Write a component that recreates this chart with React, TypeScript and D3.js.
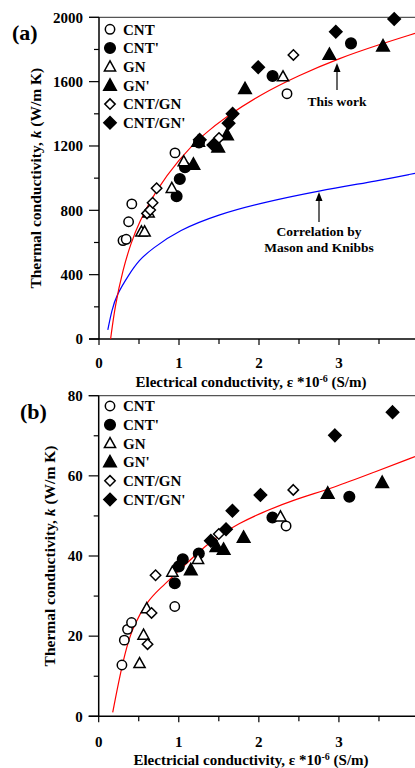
import React from 'react';
import * as d3 from 'd3';

// ---------- data ----------
const seriesNames = ["CNT", "CNT'", "GN", "GN'", "CNT/GN", "CNT/GN'"];
const seriesShapes = ['circle', 'circle', 'triangle', 'triangle', 'diamond', 'diamond'];
const seriesFilled = [false, true, false, true, false, true];

// Panel (a): electrical conductivity (x1e-6 S/m), thermal conductivity (W/m K)
const aCNT = [[0.30, 612], [0.34, 620], [0.37, 729], [0.41, 840], [0.95, 1157], [2.35, 1525]];
const aCNTp = [[0.97, 888], [1.01, 995], [1.075, 1068], [1.25, 1222], [2.17, 1635], [3.15, 1838]];
const aGN = [[0.53, 667], [0.57, 667], [0.62, 785], [0.91, 937], [1.06, 1103], [1.24, 1225], [2.30, 1631]];
const aGNp = [[1.18, 1085], [1.24, 1227], [1.49, 1192], [1.60, 1268], [1.825, 1555], [2.88, 1768], [3.55, 1820]];
const aCNTGN = [[0.60, 781], [0.64, 802], [0.67, 847], [0.72, 937], [1.50, 1250], [2.43, 1766]];
const aCNTGNp = [[1.26, 1238], [1.43, 1206], [1.62, 1341], [1.67, 1400], [1.99, 1690], [2.96, 1910], [3.69, 1990]];

const aRedFit = [[0.145, 0], [0.2, 205], [0.3, 435], [0.4, 597], [0.5, 725], [0.7, 915], [1.0, 1120], [1.3, 1270], [1.6, 1385], [2.0, 1515], [2.5, 1640], [3.0, 1745], [3.5, 1830], [3.95, 1900]];
const aBlueCorr = [[0.11, 56], [0.16, 180], [0.22, 274], [0.37, 398], [0.5, 491], [0.66, 560], [1.0, 678], [1.5, 775], [2.0, 843], [2.75, 922], [3.5, 985], [3.95, 1030]];

// Panel (b)
const bCNT = [[0.29, 12.8], [0.32, 19.0], [0.36, 21.7], [0.41, 23.4], [0.95, 27.4], [2.34, 47.5]];
const bCNTp = [[0.95, 33.2], [1.0, 37.4], [1.05, 39.2], [1.25, 40.6], [2.17, 49.6], [3.13, 54.8]];
const bGN = [[0.51, 13.2], [0.56, 20.3], [0.60, 26.9], [0.92, 36.0], [1.24, 39.2], [2.27, 49.8]];
const bGNp = [[1.15, 36.5], [1.47, 42.3], [1.56, 41.6], [1.81, 44.6], [2.86, 55.6], [3.54, 58.3]];
const bCNTGN = [[0.61, 18.0], [0.66, 25.8], [0.71, 35.2], [1.50, 45.5], [2.43, 56.5]];
const bCNTGNp = [[1.40, 43.8], [1.59, 46.7], [1.67, 51.3], [2.02, 55.2], [2.95, 70.1], [3.67, 75.9]];

const bRedFit = [[0.175, 1], [0.27, 10.7], [0.35, 17.4], [0.43, 22.4], [0.6, 28.6], [0.77, 32], [0.95, 35.3], [1.18, 39.8], [1.47, 44.8], [1.76, 48.2], [2.01, 50.6], [2.43, 54], [2.93, 57], [3.45, 61], [3.95, 64.8]];

const xMajorTicks = [0, 1, 2, 3];
const xMinorTicks = [0.5, 1.5, 2.5, 3.5];
const aYMajor = [0, 400, 800, 1200, 1600, 2000];
const aYMinor = [200, 600, 1000, 1400, 1800];
const bYMajor = [0, 20, 40, 60, 80];
const bYMinor = [10, 30, 50, 70];

const FONT = "'Liberation Serif', 'Times New Roman', serif";

function Marker({ shape, filled, cx, cy }) {
  const fill = filled ? '#000' : '#fff';
  const common = { fill, stroke: '#000', strokeWidth: 1.5 };
  if (shape === 'circle') return <circle cx={cx} cy={cy} r={filled ? 5.3 : 4.7} {...common} />;
  if (shape === 'triangle') {
    const s = filled ? 6.3 : 5.6;
    const p = `${cx},${cy - s * 1.05} ${cx - s},${cy + s * 0.75} ${cx + s},${cy + s * 0.75}`;
    return <polygon points={p} {...common} strokeLinejoin="miter" />;
  }
  const d = filled ? 6.2 : 5.2;
  const p = `${cx},${cy - d} ${cx + d},${cy} ${cx},${cy + d} ${cx - d},${cy}`;
  return <polygon points={p} {...common} />;
}

function Panel({ xRange, yRange, yDomain, yMajor, yMinor, series, curves, label, labelPos, xTitleWord, yTitleX, xLabelY, xTitleY, legendY0, legendStep }) {
  const x = d3.scaleLinear().domain([0, 4]).range(xRange);
  const y = d3.scaleLinear().domain(yDomain).range(yRange);
  const line = d3.line().x((d) => x(d[0])).y((d) => y(d[1])).curve(d3.curveBasis);
  const x0 = xRange[0];
  const yb = yRange[0];
  const yt = yRange[1];
  const yMid = (yb + yt) / 2;
  return (
    <g fontFamily={FONT} fontWeight="bold">
      <text x={labelPos[0]} y={labelPos[1]} fontSize={22} fill="#000">{label}</text>
      {/* frame */}
      <line x1={x0 - 10} x2={420} y1={yt} y2={yt} stroke="#555" strokeWidth={1.2} />
      <line x1={x0} x2={x0} y1={yt} y2={yb} stroke="#000" strokeWidth={1.5} />
      <line x1={x0 - 10} x2={420} y1={yb} y2={yb} stroke="#000" strokeWidth={1.5} />
      {/* y ticks */}
      {yMajor.map((v) => (
        <g key={'ym' + v}>
          <line x1={x0 - 10} x2={x0} y1={y(v)} y2={y(v)} stroke="#000" strokeWidth={1.2} />
          <text x={x0 - 16} y={y(v)} dy="0.35em" textAnchor="end" fontSize={15}>{v}</text>
        </g>
      ))}
      {yMinor.map((v) => (
        <line key={'yn' + v} x1={x0 - 5} x2={x0} y1={y(v)} y2={y(v)} stroke="#000" strokeWidth={1.2} />
      ))}
      {/* x ticks */}
      {xMajorTicks.map((v) => (
        <g key={'xm' + v}>
          <line x1={x(v)} x2={x(v)} y1={yb} y2={yb + 6} stroke="#000" strokeWidth={1.2} />
          <text x={x(v)} y={xLabelY} dy="0.35em" textAnchor="middle" fontSize={15}>{v}</text>
        </g>
      ))}
      {xMinorTicks.map((v) => (
        <line key={'xn' + v} x1={x(v)} x2={x(v)} y1={yb} y2={yb + 5} stroke="#000" strokeWidth={1.2} />
      ))}
      {/* axis titles */}
      <text x={251} y={xTitleY} dy="0.35em" textAnchor="middle" fontSize={15}>
        {xTitleWord} conductivity, ε *10<tspan dy="-5" fontSize={10}>-6</tspan><tspan dy="5"> (S/m)</tspan>
      </text>
      <text transform={`translate(${yTitleX},${yMid}) rotate(-90)`} dy="0.35em" textAnchor="middle" fontSize={15.5}>
        Thermal conductivity, <tspan fontStyle="italic">k</tspan> (W/m K)
      </text>
      {/* curves */}
      {curves.map((c, i) => (
        <path key={'c' + i} d={line(c.data)} fill="none" stroke={c.color} strokeWidth={1.2} />
      ))}
      {/* data markers */}
      {series.map((s, i) =>
        s.map((d, j) => (
          <Marker key={`m${i}-${j}`} shape={seriesShapes[i]} filled={seriesFilled[i]} cx={x(d[0])} cy={y(d[1])} />
        ))
      )}
      {/* legend */}
      {seriesNames.map((n, i) => (
        <g key={'lg' + i}>
          <Marker shape={seriesShapes[i]} filled={seriesFilled[i]} cx={110} cy={legendY0 + i * legendStep} />
          <text x={123} y={legendY0 + i * legendStep} dy="0.35em" fontSize={15}>{n}</text>
        </g>
      ))}
    </g>
  );
}

function Arrow({ x, y1, y2 }) {
  return (
    <g>
      <line x1={x} x2={x} y1={y1} y2={y2 + 6} stroke="#000" strokeWidth={1.2} />
      <polygon points={`${x},${y2} ${x - 3.5},${y2 + 9} ${x + 3.5},${y2 + 9}`} fill="#000" />
    </g>
  );
}

export default function App() {
  return (
    <svg width={415} height={768} style={{ position: 'absolute', left: 0, top: 0, background: '#fff' }}>
      <rect width={415} height={768} fill="#fff" />
      <Panel
        xRange={[99, 419]}
        yRange={[339, 17.3]}
        yDomain={[0, 2000]}
        yMajor={aYMajor}
        yMinor={aYMinor}
        series={[aCNT, aCNTp, aGN, aGNp, aCNTGN, aCNTGNp]}
        curves={[{ data: aBlueCorr, color: '#0000ff' }, { data: aRedFit, color: '#ff0000' }]}
        label="(a)"
        labelPos={[12, 40]}
        xTitleWord="Electrical"
        yTitleX={36}
        xLabelY={363}
        xTitleY={382}
        legendY0={29.3}
        legendStep={18.7}
      />
      <Panel
        xRange={[98.7, 419]}
        yRange={[716.3, 395.7]}
        yDomain={[0, 80]}
        yMajor={bYMajor}
        yMinor={bYMinor}
        series={[bCNT, bCNTp, bGN, bGNp, bCNTGN, bCNTGNp]}
        curves={[{ data: bRedFit, color: '#ff0000' }]}
        label="(b)"
        labelPos={[20, 419]}
        xTitleWord="Electricial"
        yTitleX={50}
        xLabelY={741.5}
        xTitleY={759.5}
        legendY0={406}
        legendStep={18.7}
      />
      <g fontFamily={FONT} fontWeight="bold" fontSize={13.5} textAnchor="middle">
        <Arrow x={337} y1={90} y2={63} />
        <text x={337} y={101} dy="0.35em">This work</text>
        <Arrow x={319} y1={222} y2={192} />
        <text x={319} y={231} dy="0.35em">Correlation by</text>
        <text x={319} y={247} dy="0.35em">Mason and Knibbs</text>
      </g>
    </svg>
  );
}
